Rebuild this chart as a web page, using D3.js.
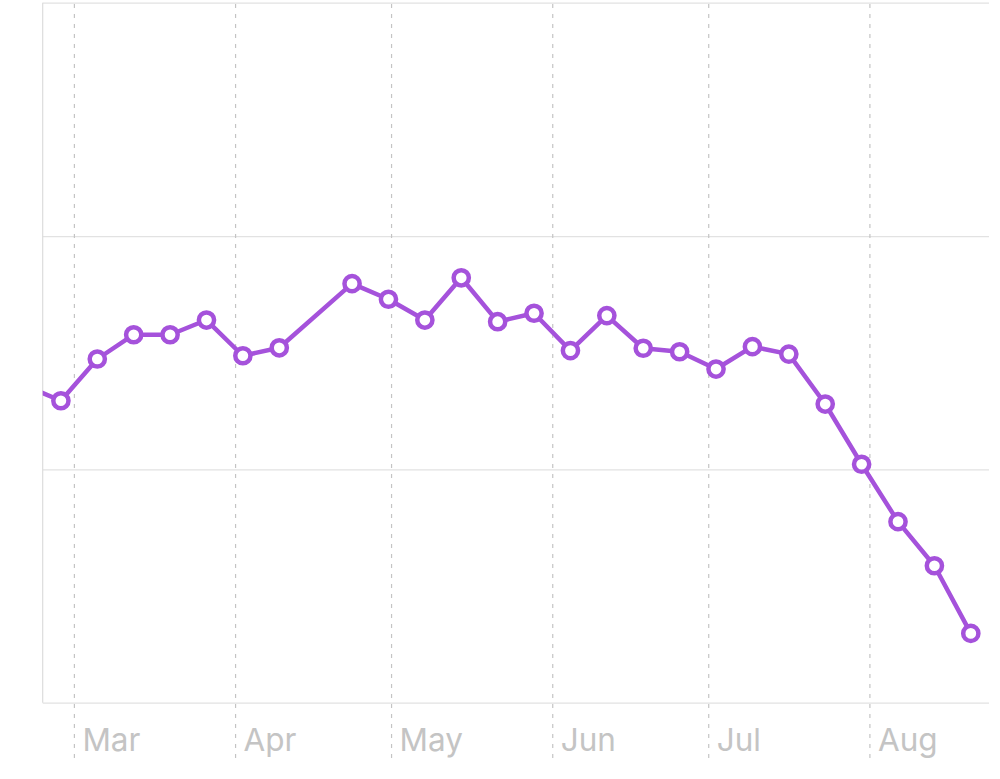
<!DOCTYPE html>
<html>
<head>
<meta charset="utf-8">
<script src="https://cdn.jsdelivr.net/npm/d3@7"></script>
<style>
  body { margin: 0; background: #fff; }
  svg { display: block; }
  .x.axis text { font-family: Inter, "Liberation Sans", sans-serif; font-size: 31.5px; fill: #c4c4c4; }
</style>
</head>
<body>
<div id="chart-area"></div>
<script>
// Weekly readings (first point sits just outside the left edge and is clipped)
var weeks = ["2023-02-19", "2023-02-26", "2023-03-05", "2023-03-12", "2023-03-19", "2023-03-26",
    "2023-04-02", "2023-04-09", "2023-04-23", "2023-04-30", "2023-05-07", "2023-05-14",
    "2023-05-21", "2023-05-28", "2023-06-04", "2023-06-11", "2023-06-18", "2023-06-25",
    "2023-07-02", "2023-07-09", "2023-07-16", "2023-07-23", "2023-07-30", "2023-08-06",
    "2023-08-13", "2023-08-20"];
var values = [136, 129.4, 147.3, 157.7, 157.7, 164.0,
    148.7, 152.1, 179.6, 172.9, 164.0, 182.1,
    163.3, 166.9, 150.9, 165.9, 151.9, 150.4,
    143.0, 152.6, 149.4, 128.0, 102.2, 77.6,
    58.7, 29.7];
var yTicks = [0, 100, 200, 300];
var xStart = "2023-02-23", xEnd = "2023-08-24";

var margin = { left: 42.7, right: 11, top: 2.7, bottom: 76.3 },
    width = 1000 - margin.left - margin.right,
    height = 779 - margin.top - margin.bottom;

var svg = d3.select("#chart-area").append("svg")
    .attr("width", 1000)
    .attr("height", 779);

var g = svg.append("g")
    .attr("transform", "translate(" + margin.left + ", " + margin.top + ")");

var parseDay = d3.timeParse("%Y-%m-%d");
var parsePoint = d3.timeParse("%Y-%m-%d %H");

var data = weeks.map(function(w, i) {
    return { date: parsePoint(w + " 12"), value: values[i] };
});

// Scales
var x = d3.scaleTime()
    .domain([parseDay(xStart), parseDay(xEnd)])
    .range([0, width]);
var y = d3.scaleLinear()
    .domain([yTicks[0], yTicks[yTicks.length - 1]])
    .range([height, 0]);

// Horizontal grid
var yGrid = g.append("g")
    .attr("class", "y grid")
    .call(d3.axisLeft(y).tickValues(yTicks).tickSize(-width).tickFormat(""));
yGrid.select(".domain").remove();
yGrid.selectAll("line").attr("stroke", "#e2e2e2").attr("stroke-width", 1.2);

// Left edge line
g.append("line")
    .attr("x1", 0).attr("x2", 0)
    .attr("y1", 0).attr("y2", height)
    .attr("stroke", "#dcdcdc")
    .attr("stroke-width", 1.2);

// Month ticks: dashed lines running down past the labels
var axisDrop = 55.3;
var xAxis = g.append("g")
    .attr("class", "x axis")
    .attr("transform", "translate(0," + (height + axisDrop) + ")")
    .call(d3.axisBottom(x)
        .ticks(d3.timeMonth.every(1))
        .tickSizeInner(-(height + axisDrop))
        .tickSizeOuter(0)
        .tickFormat(d3.timeFormat("%b")));
xAxis.select(".domain").remove();
xAxis.selectAll("line")
    .attr("stroke", "#c4c4c4")
    .attr("stroke-width", 1.2)
    .attr("stroke-dasharray", "4,6");
xAxis.selectAll("text")
    .attr("x", 8)
    .attr("y", -7)
    .attr("dy", 0)
    .attr("text-anchor", "start");

// Clip to plot area
g.append("clipPath")
    .attr("id", "plot-clip")
    .append("rect")
    .attr("width", width)
    .attr("height", height);

var line = d3.line()
    .x(function(d) { return x(d.date); })
    .y(function(d) { return y(d.value); });

var plot = g.append("g").attr("clip-path", "url(#plot-clip)");

plot.append("path")
    .attr("fill", "none")
    .attr("stroke", "#a552db")
    .attr("stroke-width", 4.5)
    .attr("stroke-linejoin", "round")
    .attr("d", line(data));

plot.selectAll("circle")
    .data(data)
    .enter().append("circle")
    .attr("cx", function(d) { return x(d.date); })
    .attr("cy", function(d) { return y(d.value); })
    .attr("r", 7.6)
    .attr("fill", "#fff")
    .attr("stroke", "#a552db")
    .attr("stroke-width", 4.5);
</script>
</body>
</html>
